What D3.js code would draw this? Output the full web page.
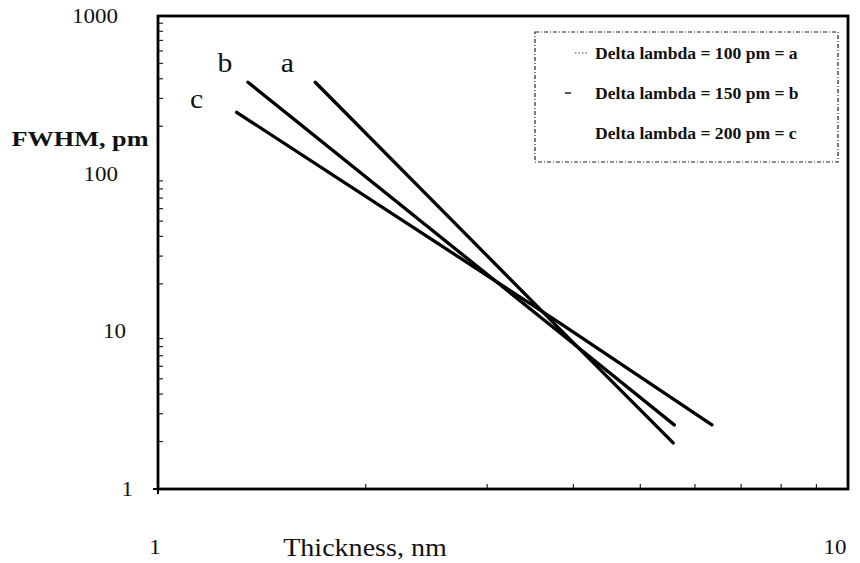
<!DOCTYPE html>
<html>
<head>
<meta charset="utf-8">
<script src="https://cdn.jsdelivr.net/npm/d3@7"></script>
<style>
  body { margin: 0; background: #fff; }
  svg { display: block; }
  text { font-family: "Liberation Serif", "Times New Roman", serif; fill: #111; }
</style>
</head>
<body>
<svg id="chart" width="860" height="563"></svg>
<script>
// series: [thickness nm, FWHM pm]
const seriesA = [[1.69, 380], [3.8, 10.6], [5.58, 1.96]];
const seriesB = [[1.35, 380], [3.8, 10.0], [5.6, 2.55]];
const seriesC = [[1.30, 245], [3.8, 11.5], [6.35, 2.55]];
const seriesNames = ["a", "b", "c"];
const legendLabels = ["Delta lambda = 100 pm = a", "Delta lambda = 150 pm = b", "Delta lambda = 200 pm = c"];
const yTicks = [1, 10, 100, 1000];
const xTicks = [1, 10];

const svg = d3.select("#chart"),
	margin = {top: 16, right: 12, bottom: 74, left: 158},
	width = +svg.attr("width") - margin.left - margin.right,
	height = +svg.attr("height") - margin.top - margin.bottom;

const x = d3.scaleLog().domain([1, 10]).range([margin.left, margin.left + width]);
const y = d3.scaleLog().domain([1, 1000]).range([margin.top + height, margin.top]);

// the scan is stretched sideways, so text gets a small x scale
const stretch = (px, py, sx) => "translate(" + px + "," + py + ") scale(" + sx + ",1)";

// minor ticks inside the frame
const minorX = d3.range(2, 10);
const minorY = [];
[1, 10, 100].forEach(d => d3.range(2, 10).forEach(k => minorY.push(d * k)));

svg.append("g").selectAll("line").data(minorX).join("line")
	.attr("x1", d => x(d)).attr("x2", d => x(d))
	.attr("y1", y(1)).attr("y2", y(1) - 5)
	.attr("stroke", "#222").attr("stroke-width", 1.2);
svg.append("g").selectAll("line").data(minorY).join("line")
	.attr("x1", x(1)).attr("x2", x(1) + 5)
	.attr("y1", d => y(d)).attr("y2", d => y(d))
	.attr("stroke", "#222").attr("stroke-width", 1.2);

// frame
svg.append("rect")
	.attr("x", x(1)).attr("y", y(1000))
	.attr("width", x(10) - x(1)).attr("height", y(1) - y(1000))
	.attr("fill", "none").attr("stroke", "#000").attr("stroke-width", 2.8);

// small outward tick at the origin
svg.append("line").attr("x1", x(1) - 5).attr("x2", x(1)).attr("y1", y(1)).attr("y2", y(1))
	.attr("stroke", "#000").attr("stroke-width", 2);
svg.append("line").attr("x1", x(1)).attr("x2", x(1)).attr("y1", y(1)).attr("y2", y(1) + 5)
	.attr("stroke", "#000").attr("stroke-width", 2);

// y tick labels (the small ones sit a little further right in the scan)
const yShift = d => d === 1 ? 15 : d === 10 ? 8 : 0;
svg.append("g").selectAll("text").data(yTicks).join("text")
	.attr("transform", d => stretch(118 + yShift(d), y(d), 1.15))
	.attr("dy", "0.35em").attr("text-anchor", "end")
	.style("font-size", "20px")
	.text(d => d);

// x tick labels
svg.append("g").selectAll("text").data(xTicks).join("text")
	.attr("transform", d => stretch(x(d) + (d === 1 ? -3 : -13), 547, 1.15))
	.attr("dy", "0.35em").attr("text-anchor", "middle")
	.style("font-size", "20px")
	.text(d => d);

// axis titles
svg.append("text")
	.attr("transform", stretch(365, 547, 1.08))
	.attr("dy", "0.35em")
	.attr("text-anchor", "middle").style("font-size", "26px")
	.text("Thickness, nm");
svg.append("text")
	.attr("transform", stretch(80, 139, 1.25))
	.attr("dy", "0.35em")
	.attr("text-anchor", "middle").style("font-size", "21px").style("font-weight", "bold")
	.text("FWHM, pm");

// lines
const line = d3.line().x(d => x(d[0])).y(d => y(d[1]));
const allSeries = [seriesA, seriesB, seriesC];
svg.append("g").selectAll("path").data(allSeries).join("path")
	.attr("d", line)
	.attr("fill", "none").attr("stroke", "#000")
	.attr("stroke-width", 3.3).attr("stroke-linecap", "round");

// curve letters near the start of each line
const letterOffset = [[-28, -20], [-23, -20], [-40, -14]];
svg.append("g").selectAll("text").data(allSeries).join("text")
	.attr("transform", (d, i) => stretch(x(d[0][0]) + letterOffset[i][0], y(d[0][1]) + letterOffset[i][1], 1.1))
	.attr("dy", "0.35em").attr("text-anchor", "middle")
	.style("font-size", "27px")
	.text((d, i) => seriesNames[i]);

// legend
const legend = svg.append("g");
legend.append("rect")
	.attr("x", 535).attr("y", 32).attr("width", 303).attr("height", 130)
	.attr("fill", "none").attr("stroke", "#222").attr("stroke-width", 1.2)
	.attr("stroke-dasharray", "4,2,1,2");
legend.selectAll("text").data(legendLabels).join("text")
	.attr("transform", (d, i) => stretch(595, 53 + i * 40, 1.1))
	.attr("dy", "0.35em")
	.style("font-size", "16px").style("font-weight", "bold")
	.text(d => d);
legend.append("line").attr("x1", 575).attr("x2", 588).attr("y1", 53).attr("y2", 53)
	.attr("stroke", "#444").attr("stroke-width", 1).attr("stroke-dasharray", "1.5,2");
legend.append("line").attr("x1", 565).attr("x2", 571).attr("y1", 93).attr("y2", 93)
	.attr("stroke", "#222").attr("stroke-width", 1.5);
</script>
</body>
</html>
